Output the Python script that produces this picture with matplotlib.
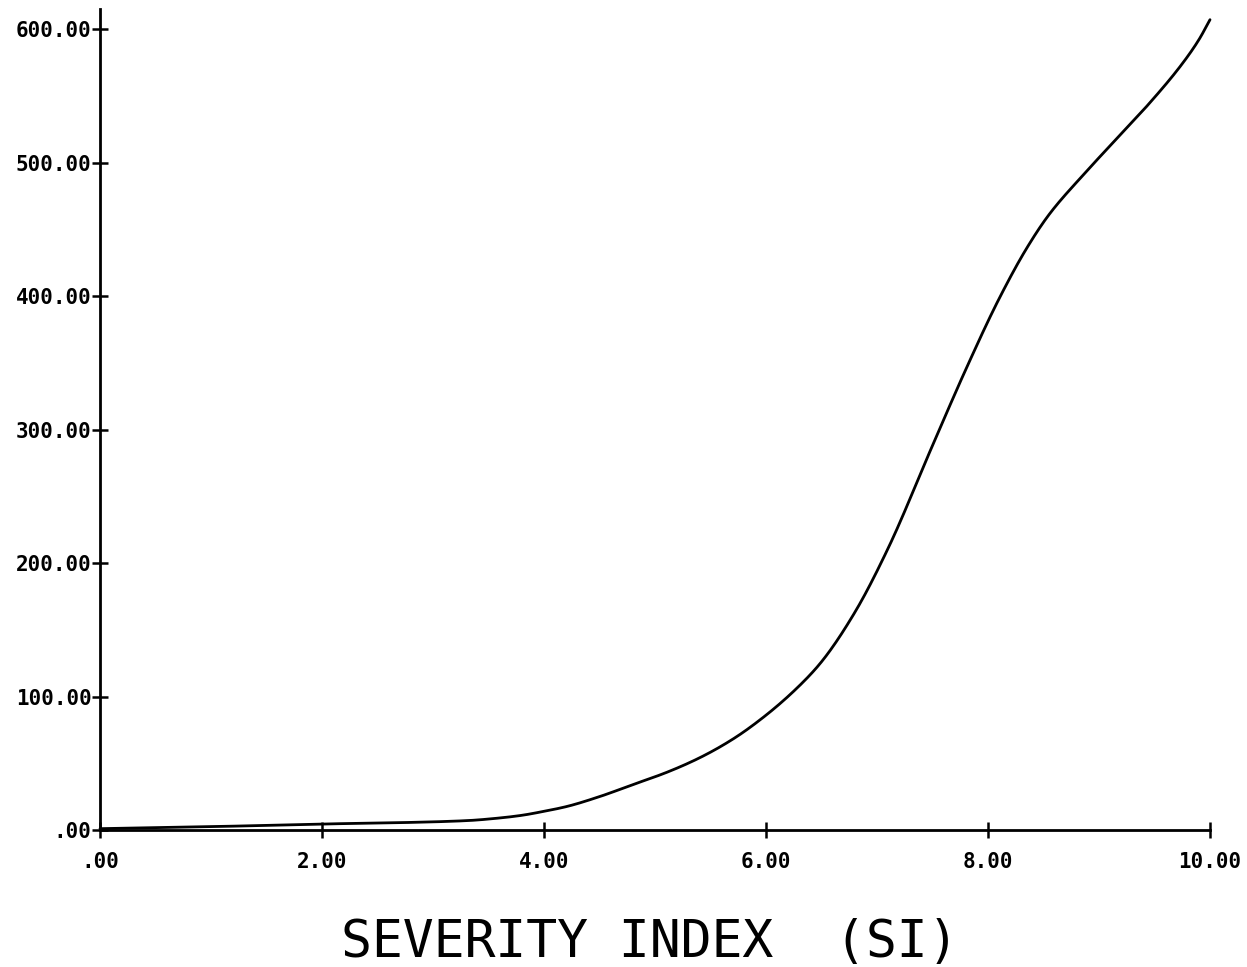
import numpy as np
import matplotlib.pyplot as plt

# values
si = [0.0, 1.0, 2.0, 2.7, 3.3, 3.6, 3.8, 4.0, 4.2, 4.5, 4.8, 5.1, 5.4, 5.7,
      6.0, 6.3, 6.5, 6.8, 7.1, 7.5, 7.8, 8.1, 8.35, 8.55, 8.85, 9.15, 9.45,
      9.75, 9.9, 10.0]
val = [1.0, 2.5, 4.5, 5.5, 7.0, 9.0, 11.0, 14.0, 17.5, 25.0, 34.0, 43.0,
       54.0, 68.0, 86.0, 108.0, 126.0, 163.0, 211.0, 288.0, 345.0, 398.0,
       436.0, 461.0, 490.0, 517.0, 544.0, 574.0, 592.0, 607.0]

xticks = [0, 2, 4, 6, 8, 10]
yticks = [0, 100, 200, 300, 400, 500, 600]


def fmt(v):
    s = "%.2f" % v
    return s[1:] if s.startswith("0") else s


# smooth the read points with a monotone cubic (Fritsch-Carlson)
x = np.array(si)
y = np.array(val)
h = np.diff(x)
d = np.diff(y) / h
m = np.zeros_like(y)
m[0], m[-1] = d[0], d[-1]
for i in range(1, len(x) - 1):
    if d[i - 1] * d[i] > 0:
        w1 = 2 * h[i] + h[i - 1]
        w2 = h[i] + 2 * h[i - 1]
        m[i] = (w1 + w2) / (w1 / d[i - 1] + w2 / d[i])
xs, ys = [], []
for i in range(len(x) - 1):
    t = np.linspace(0, 1, 30, endpoint=False)
    h00 = 2 * t**3 - 3 * t**2 + 1
    h10 = t**3 - 2 * t**2 + t
    h01 = -2 * t**3 + 3 * t**2
    h11 = t**3 - t**2
    xs.extend(x[i] + t * h[i])
    ys.extend(h00 * y[i] + h10 * h[i] * m[i] + h01 * y[i + 1] + h11 * h[i] * m[i + 1])
xs.append(x[-1])
ys.append(y[-1])

fig = plt.figure(figsize=(12.47, 9.67), dpi=100)
ax = fig.add_axes([100 / 1247, 137 / 967, 1110 / 1247, 821 / 967])

ax.plot(xs, ys, color="black", lw=2.0, clip_on=False, solid_capstyle="round")

ax.set_xlim(0, 10)
ax.set_ylim(0, 615)
ax.spines["top"].set_visible(False)
ax.spines["right"].set_visible(False)
for sp in ("left", "bottom"):
    ax.spines[sp].set_linewidth(2.0)

ax.set_xticks(xticks)
ax.set_xticklabels([fmt(v) for v in xticks])
ax.set_yticks(yticks)
ax.set_yticklabels([fmt(v) for v in yticks])
ax.tick_params(direction="inout", length=12, width=1.8)
ax.tick_params(axis="x", pad=10)
ax.tick_params(axis="y", pad=0)
for lab in ax.get_xticklabels() + ax.get_yticklabels():
    lab.set_family("DejaVu Sans Mono")
    lab.set_fontweight("bold")
    lab.set_fontsize(15)

fig.text(650 / 1247, 24 / 967, "SEVERITY INDEX  (SI)", family="DejaVu Sans Mono",
         fontsize=37, ha="center", va="center")

fig.savefig("out.png", dpi=100)
